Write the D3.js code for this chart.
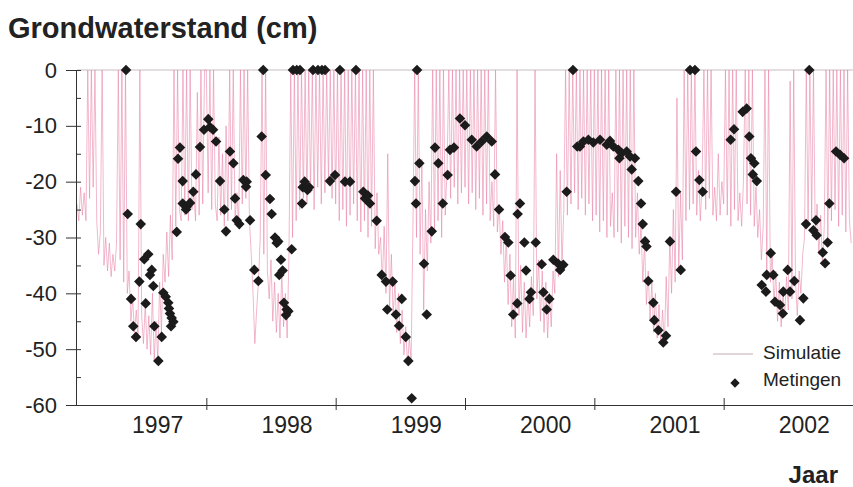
<!DOCTYPE html>
<html>
<head>
<meta charset="utf-8">
<script src="https://cdn.jsdelivr.net/npm/d3@7"></script>
<style>
  body { margin: 0; background: #fff; }
  svg { display: block; font-family: "Liberation Sans", Arial, sans-serif; }
</style>
</head>
<body>
<svg id="chart" width="853" height="487"></svg>
<script>
// jaren op de x-as
const jaren = [1997, 1998, 1999, 2000, 2001, 2002];
const jaarGrenzen = [1998, 1999, 2000, 2001, 2002];
const standTicks = [0, -10, -20, -30, -40, -50, -60];

// simulatie: per jaar 72 waarden (ca. 5 dagen per stap), cm t.o.v. maaiveld
const sim1997 = [-24,-27,-21,-26,-22,-27,0,-23,0,-21, 0,-27,-33,-29,0,-35,-30,-36,-31,-37,
  -33,-36,-31,0,-34,0,-38,0,-40,-36, -45,-41,-47,-43,-48,0,-44,-49,-42,-50,
  -44,-51,-40,-52,-45,-52,-38,-47,-33,-38, -29,-37,-26,-34,0,-28,0,-25,-27,0,
  -26,0,-27,0,-25,-22,-27,-4,-26,0, -24,0];
const sim1998 = [0,-22,0,-25,0,-24,-27,-12,-26,-15, -28,-10,-27,0,-25,0,-27,-22,-28,0,
  -24,0,-23,0,-27,-33,-40,-49,-43,-38, -30,0,-33,0,-36,-41,-34,-45,-38,-47,
  -40,-48,-36,-46,-40,-48,-33,0,-30,0, -27,0,-25,0,-23,0,-24,0,-22,0,
  -25,0,-21,0,-24,0,-22,0,-20,0, -23,0];
const sim1999 = [-24,0,-27,0,-25,0,-28,0,-26,0, -24,0,-27,0,-29,0,-27,0,-30,0,
  -28,0,-32,-22,-33,-30,-38,-28,-40,-15, -43,-33,-44,-38,-47,-40,-49,-43,-51,-46,
  -53,-48,-52,-28,0,-30,0,-33,-16,-43, -25,-36,-20,-31,0,-29,0,-27,0,-30,
  0,-26,-18,0,-23,0,-21,0,-24,0, -22,0];
const sim2000 = [-21,0,-24,0,-22,0,-25,0,-23,0, -26,0,-24,0,-27,-20,-28,0,-29,-24,
  -33,-27,-38,-30,-42,-33,-46,-37,-48,0, -44,-35,-47,-38,-48,-40,-46,-37,-44,0,
  -41,-34,-45,-36,-47,-38,-48,-40,-46,-36, -40,-15,-37,-18,-35,-25,0,-26,0,-24,
  0,-22,0,-25,0,-23,0,-26,0,-24, 0,-27];
const sim2001 = [0,-26,0,-29,0,-27,0,-30,0,-28, -22,-30,0,-29,0,-31,0,-28,0,-30,
  0,-32,0,-30,-22,-33,-28,-38,-31,-42, -36,-45,-38,-47,-40,-48,-42,-49,-43,-49,
  -37,-46,-30,-40,-25,-38,-5,-36,-22,-34, 0,-27,0,-25,0,-24,0,-26,-18,-27,
  -20,0,-25,0,-23,0,-26,-21,-27,-15, -26,-20];
const sim2002 = [-24,0,-26,0,-28,0,-25,0,-27,-22, -28,-20,0,-24,0,-26,0,-28,-21,-30,
  -25,-34,-28,0,-36,0,-38,-33,-42,-36, -45,-38,-46,-40,-44,-37,-43,-2,-41,0,
  -38,-44,-36,-40,-33,-30,0,-28,0,-27, 0,-30,-24,-33,-26,-35,-28,0,-30,0,
  -27,0,-25,0,-28,0,-26,0,-29,0, -27,-31];
const simPerJaar = [sim1997, sim1998, sim1999, sim2000, sim2001, sim2002];

// metingen: [decimaal jaar, stand in cm]
const metingen = [
  [1997.379,0],[1997.392,-25.8],[1997.418,-41],[1997.435,-45.9],[1997.456,-47.8],[1997.482,-37.9],
  [1997.493,-27.6],[1997.520,-33.9],[1997.531,-41.8],[1997.551,-33],[1997.564,-36.7],[1997.578,-35.8],
  [1997.590,-38.7],[1997.598,-45.9],[1997.629,-52.1],[1997.655,-47.8],[1997.667,-39.9],[1997.686,-40.6],
  [1997.706,-41.7],[1997.711,-42.7],[1997.719,-43.6],[1997.727,-45.9],[1997.732,-44.4],[1997.745,-45.1],
  [1997.771,-29],[1997.781,-15.9],[1997.796,-13.9],[1997.817,-19.9],[1997.817,-23.9],[1997.843,-25],
  [1997.848,-24.5],[1997.874,-23.8],[1997.899,-21.8],[1997.920,-18.7],[1997.951,-13.8],[1997.982,-10.7],
  [1998.015,-8.8],[1998.028,-10.2],[1998.052,-10.7],[1998.075,-12.8],[1998.106,-19.9],[1998.139,-25],
  [1998.152,-28.9],[1998.183,-14.6],[1998.209,-16.7],[1998.222,-23],[1998.235,-26.9],[1998.255,-27.6],
  [1998.286,-19.7],[1998.307,-20.9],[1998.312,-20],[1998.338,-26.9],[1998.371,-35.8],[1998.402,-37.8],
  [1998.428,-11.9],[1998.440,0],[1998.459,-18.8],[1998.492,-23.1],[1998.505,-25.8],[1998.531,-30],
  [1998.544,-31],[1998.556,-30.7],[1998.564,-36.7],[1998.577,-34],[1998.590,-35.9],[1998.600,-41.7],
  [1998.616,-43.9],[1998.621,-42.9],[1998.634,-43.2],[1998.660,-32.1],[1998.670,0],[1998.699,0],
  [1998.724,0],[1998.740,-23.9],[1998.745,-21],[1998.760,-20],[1998.782,-21.5],[1998.795,-21],
  [1998.825,0],[1998.863,0],[1998.894,0],[1998.918,0],[1998.956,-19.9],[1998.995,-18.8],
  [1999.033,0],[1999.072,-20],[1999.111,-20],[1999.157,0],[1999.214,-21.8],[1999.227,-23],
  [1999.250,-22.5],[1999.265,-23.9],[1999.317,-27],[1999.356,-36.7],[1999.389,-37.9],[1999.399,-42.9],
  [1999.441,-37.9],[1999.466,-43.8],[1999.490,-45.8],[1999.511,-41],[1999.542,-47.8],[1999.562,-52.1],
  [1999.588,-58.8],[1999.613,-19.9],[1999.621,-23.9],[1999.629,0],[1999.647,-16.7],[1999.683,-34.7],
  [1999.704,-43.8],[1999.743,-28.9],[1999.768,-13.9],[1999.794,-16.7],[1999.828,-23.9],[1999.866,-18.8],
  [1999.884,-14.3],[1999.915,-13.9],[1999.961,-8.7],[2000.000,-9.9],
  [2000.052,-12.5],[2000.090,-13.7],[2000.129,-12.8],[2000.168,-11.9],[2000.207,-12.8],[2000.232,-18.7],
  [2000.263,-25],[2000.309,-29.9],[2000.335,-30.9],[2000.353,-36.8],[2000.373,-43.8],[2000.404,-41.8],
  [2000.407,-25.8],[2000.425,-23.9],[2000.459,-30.9],[2000.472,-35.9],[2000.498,-41],[2000.510,-39.8],
  [2000.547,-30.9],[2000.593,-34.8],[2000.606,-39.8],[2000.632,-42.9],[2000.652,-41],[2000.683,-34],
  [2000.721,-34.7],[2000.735,-35.8],[2000.760,-34.9],[2000.786,-21.8],[2000.835,0],[2000.868,-13.7],
  [2000.889,-13.7],[2000.915,-12.8],[2000.954,-12.5],[2000.992,-13],
  [2001.044,-12.5],[2001.096,-13.4],[2001.121,-12.7],[2001.147,-13.7],[2001.186,-14.3],[2001.194,-15.8],
  [2001.212,-14.9],[2001.250,-14.6],[2001.276,-15.5],[2001.289,-17.8],[2001.314,-15.8],[2001.340,-19.9],
  [2001.361,-23.9],[2001.374,-27.6],[2001.392,-30.7],[2001.403,-31.6],[2001.417,-37.8],[2001.456,-41.7],
  [2001.464,-44.8],[2001.495,-46.6],[2001.533,-48.8],[2001.554,-47.6],[2001.585,-30.7],[2001.632,-21.8],
  [2001.668,-35.8],[2001.740,0],[2001.778,0],[2001.786,-14.6],[2001.812,-19.7],[2001.838,-21.8],
  [2002.054,-12.5],[2002.080,-10.6],[2002.147,-7.5],[2002.178,-6.9],[2002.198,-11.9],[2002.211,-15.8],
  [2002.225,-18.7],[2002.237,-16.7],[2002.256,-19.9],[2002.294,-38.5],[2002.327,-39.7],[2002.333,-36.7],
  [2002.364,-32.8],[2002.384,-36.7],[2002.397,-41.5],[2002.436,-42.1],[2002.457,-43.6],[2002.461,-39.7],
  [2002.495,-35.8],[2002.513,-39.7],[2002.546,-37.8],[2002.590,-44.8],[2002.616,-40.9],[2002.637,-27.6],
  [2002.662,0],[2002.693,-28.7],[2002.714,-26.9],[2002.719,-29.6],[2002.766,-32.7],[2002.784,-34.6],
  [2002.804,-30.9],[2002.817,-23.9],[2002.869,-14.6],[2002.900,-15.2],[2002.931,-15.8]
];

const svg = d3.select("#chart");

const x = d3.scaleLinear().domain([1997, 2003]).range([77, 853]);
const y = d3.scaleLinear().domain([-60, 0]).range([405, 70]);

// dunne lijn op maaiveld
svg.append("line")
  .attr("x1", x(1997)).attr("x2", x(2003))
  .attr("y1", y(0)).attr("y2", y(0))
  .attr("stroke", "#c9bcc3")
  .attr("stroke-width", 1);

const simulatie = jaren.flatMap((jaar, k) =>
  simPerJaar[k].map((v, i) => ({ t: jaar + i / simPerJaar[k].length, v })));

svg.append("path")
  .datum(simulatie)
  .attr("fill", "none")
  .attr("stroke", "#e77fa5")
  .attr("stroke-width", 0.7)
  .attr("stroke-opacity", 0.8)
  .attr("d", d3.line().x(d => x(d.t)).y(d => y(d.v)));

// assen
const yAxis = svg.append("g")
  .attr("transform", "translate(76,0)")
  .call(d3.axisLeft(y).tickValues(standTicks).tickSize(10).tickSizeOuter(0)
    .tickPadding(9).tickFormat(d => d));
yAxis.selectAll("text").attr("font-size", 22).attr("font-family", null).attr("fill", "#222");
yAxis.selectAll("line, path").attr("stroke", "#333");

svg.append("g")
  .attr("transform", "translate(76,0)")
  .call(d3.axisRight(y).tickValues(d3.range(-60, 1, 5)).tickSize(5).tickFormat(""))
  .call(g => g.select(".domain").remove())
  .selectAll("line").attr("stroke", "#333");

const xAxis = svg.append("g")
  .attr("transform", "translate(0,405)")
  .call(d3.axisBottom(x).tickValues(jaarGrenzen).tickSize(5).tickSizeOuter(0).tickFormat(""));
xAxis.selectAll("line, path").attr("stroke", "#333");

svg.append("g")
  .attr("transform", "translate(0,405)")
  .call(d3.axisTop(x).tickValues(jaarGrenzen).tickSize(7).tickFormat(""))
  .call(g => g.select(".domain").remove())
  .selectAll("line").attr("stroke", "#333");

svg.selectAll(".jaar")
  .data(jaren)
  .join("text")
  .attr("class", "jaar")
  .attr("x", d => x(d + 0.5) + 16)
  .attr("y", 433)
  .attr("text-anchor", "middle")
  .attr("font-size", 23)
  .attr("fill", "#222")
  .text(d => d);

// metingen
svg.selectAll(".meting")
  .data(metingen)
  .join("path")
  .attr("class", "meting")
  .attr("transform", d => `translate(${x(d[0])},${y(d[1])}) rotate(45)`)
  .attr("d", d3.symbol(d3.symbolSquare, 56))
  .attr("fill", "#1b1b1b");

// titels
svg.append("text")
  .attr("x", 8).attr("y", 38)
  .attr("font-size", 29).attr("font-weight", "bold").attr("fill", "#222")
  .text("Grondwaterstand (cm)");

svg.append("text")
  .attr("x", 838).attr("y", 483)
  .attr("text-anchor", "end")
  .attr("font-size", 24).attr("font-weight", "bold").attr("fill", "#222")
  .text("Jaar");

// legenda
const legend = svg.append("g");
legend.append("line")
  .attr("x1", 713).attr("x2", 753).attr("y1", 354).attr("y2", 354)
  .attr("stroke", "#d6c8ce").attr("stroke-width", 1.5);
legend.append("text")
  .attr("x", 763).attr("y", 359).attr("font-size", 19).attr("fill", "#222")
  .text("Simulatie");
legend.append("path")
  .attr("transform", "translate(735,383) rotate(45)")
  .attr("d", d3.symbol(d3.symbolSquare, 44))
  .attr("fill", "#1b1b1b");
legend.append("text")
  .attr("x", 763).attr("y", 386).attr("font-size", 19).attr("fill", "#222")
  .text("Metingen");
</script>
</body>
</html>
